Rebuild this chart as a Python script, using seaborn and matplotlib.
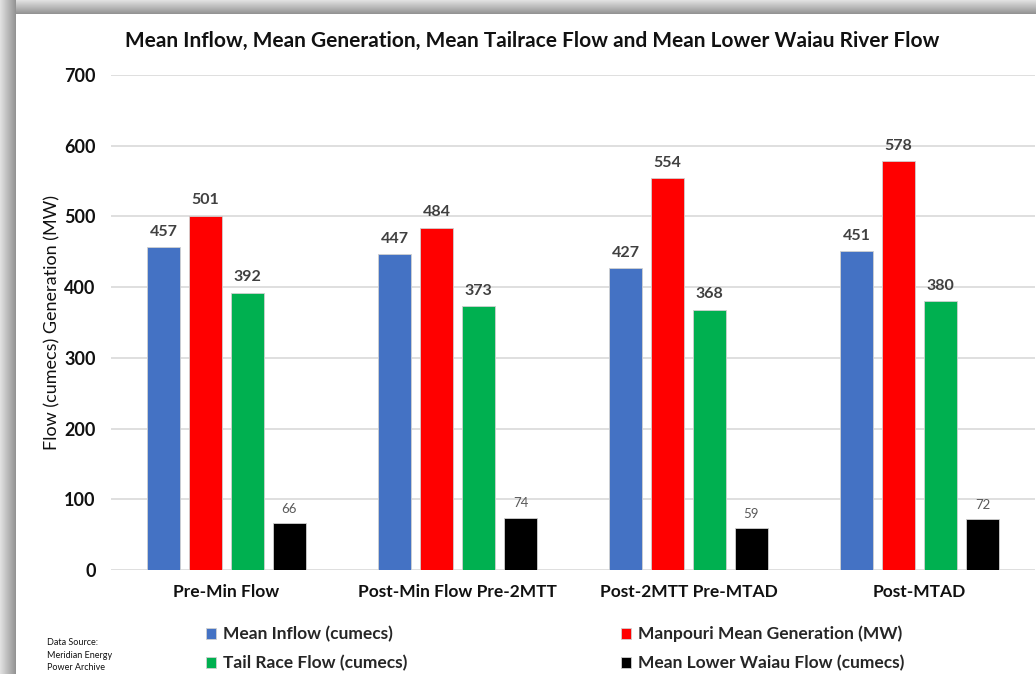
import numpy as np
import pandas as pd
import matplotlib
matplotlib.use("Agg")
import matplotlib.pyplot as plt
import seaborn as sns

categories = ["Pre-Min Flow", "Post-Min Flow Pre-2MTT", "Post-2MTT Pre-MTAD", "Post-MTAD"]
series_names = ["Mean Inflow (cumecs)", "Manpouri Mean Generation (MW)",
                "Tail Race Flow (cumecs)", "Mean Lower Waiau Flow (cumecs)"]
mean_inflow = [457, 447, 427, 451]
mean_generation = [501, 484, 554, 578]
tail_race = [392, 373, 368, 380]
lower_waiau = [66, 74, 59, 72]
y_ticks = [0, 100, 200, 300, 400, 500, 600, 700]
colors = ["#4472C4", "#FF0000", "#00B050", "#000000"]

rows = []
for name, vals in zip(series_names, [mean_inflow, mean_generation, tail_race, lower_waiau]):
    for c, v in zip(categories, vals):
        rows.append({"Period": c, "Series": name, "Value": v})
df = pd.DataFrame(rows)

sns.set_theme(style="white")
plt.rcParams["font.family"] = ["Lato", "DejaVu Sans"]

W, H = 1036, 674
fig = plt.figure(figsize=(W / 100, H / 100), dpi=100)
fig.patch.set_facecolor("white")

# shadow frame decoration (transparent except for the frame)
bg = np.zeros((H, W, 4))
for x in range(16):
    g = 0.88 - 0.30 * (x / 15)
    bg[:, x, :3] = g
    bg[:, x, 3] = 1
for y in range(14):
    g = 0.88 - 0.30 * (y / 13)
    bg[y, 16:, :3] = g
    bg[y, 16:, 3] = 1
fig.figimage(bg, xo=0, yo=0, origin="upper", zorder=-10)

ax = fig.add_axes([111 / W, (H - 570) / H, (1035 - 111) / W, (570 - 75) / H])
ax.set_zorder(2)
ax.set_facecolor("none")

sns.barplot(data=df, x="Period", y="Value", hue="Series", hue_order=series_names,
            order=categories, palette=colors, saturation=1, width=0.727, gap=0.21,
            edgecolor="#d0d0d0", linewidth=0.6, ax=ax, zorder=3, legend=True)

ax.set_ylim(0, 700)
ax.set_xlim(-0.5, 3.5)
ax.set_yticks(y_ticks)
ax.set_yticklabels([str(t) for t in y_ticks], fontsize=13, fontweight="bold", color="#111111")
ax.yaxis.grid(True, color="#d9d9d9", linewidth=1.2, zorder=0)
ax.set_axisbelow(True)
for s in ax.spines.values():
    s.set_visible(False)
ax.tick_params(axis="both", length=0)
ax.tick_params(axis="y", pad=11)
ax.tick_params(axis="x", pad=10)
ax.set_xticks(range(len(categories)))
ax.set_xticklabels(categories, fontsize=12.5, fontweight="bold", color="#111111")
ax.set_xlabel("")
ax.set_ylabel("Flow (cumecs) Generation (MW)", fontsize=13, color="#111111")
ax.yaxis.set_label_coords(-51 / (1035 - 111), 0.5)

for i, cont in enumerate(ax.containers):
    if i < 3:
        ax.bar_label(cont, labels=[f"{v:.0f}" for v in cont.datavalues], padding=6,
                     fontsize=11.5, fontweight="bold", color="#404040")
    else:
        ax.bar_label(cont, labels=[f"{v:.0f}" for v in cont.datavalues], padding=6,
                     fontsize=9.5, color="#595959")

handles, labels = ax.get_legend_handles_labels()
ax.get_legend().remove()
order = [0, 2, 1, 3]
leg = fig.legend([handles[i] for i in order], [labels[i] for i in order], ncol=2,
                 loc="upper left", bbox_to_anchor=(190 / W, 1 - 610 / H), frameon=False,
                 prop={"size": 12.5, "weight": "bold"}, handlelength=0.6, handleheight=0.6,
                 handletextpad=0.4, columnspacing=12.3, labelspacing=0.75)

fig.text(532 / W, 1 - 41 / H,
         "Mean Inflow, Mean Generation, Mean Tailrace Flow and Mean Lower Waiau River Flow",
         ha="center", va="center", fontsize=15, fontweight="bold", color="#111111")
fig.text(47 / W, 1 - 655 / H, "Data Source:\nMeridian Energy\nPower Archive",
         ha="left", va="center", fontsize=6.5, color="#111111", linespacing=1.5)

fig.savefig("out.png", dpi=100)
